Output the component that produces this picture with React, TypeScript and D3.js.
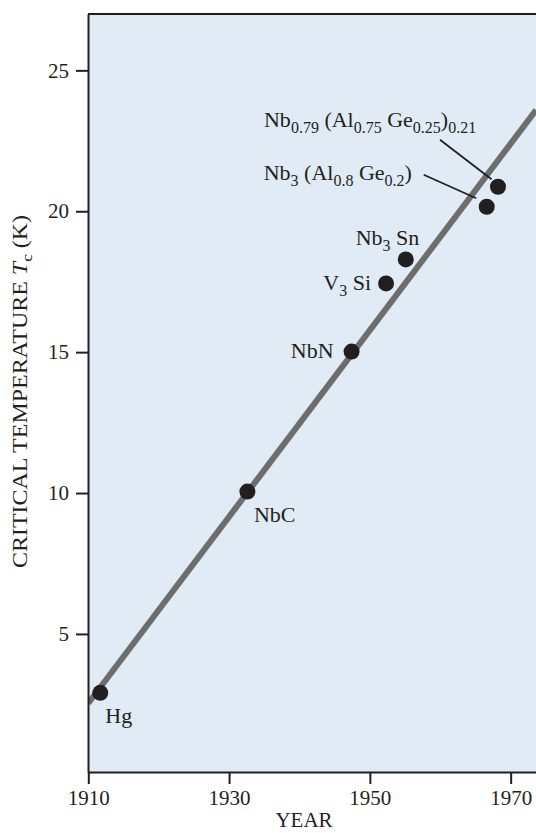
import React, { useEffect, useRef } from 'react';
import * as d3 from 'd3';

// superconductors: discovery year vs critical temperature
const materials = ['Hg', 'NbC', 'NbN', 'V_{3} Si', 'Nb_{3} Sn', 'Nb_{3} (Al_{0.8} Ge_{0.2})', 'Nb_{0.79} (Al_{0.75} Ge_{0.25})_{0.21}'];
const years = [1911.7, 1932.6, 1947.4, 1952.3, 1955.1, 1966.6, 1968.2];
const tcValues = [2.91, 10.05, 15.02, 17.44, 18.29, 20.16, 20.87];

// trend line end points
const trendYears = [1910, 1973.6];
const trendTc = [2.54, 23.59];

const yearTicks = [1910, 1930, 1950, 1970];
const tcTicks = [5, 10, 15, 20, 25];

// label placement relative to each point (px)
const labelPos = [
  { dx: 5, dy: 30, anchor: 'start' },
  { dx: 6.5, dy: 30, anchor: 'start' },
  { dx: -18, dy: 6.5, anchor: 'end' },
  { dx: -15, dy: 7, anchor: 'end' },
  { dx: 13.5, dy: -14, anchor: 'end' },
  { dx: -223, dy: -27, anchor: 'start', lead: [-63, -32, -10.5, -8.5] },
  { dx: -234, dy: -60, anchor: 'start', lead: [-58, -47, -6.5, -7.5] },
];

const FONT = '"Liberation Serif", "Times New Roman", serif';
const INK = '#231f20';

function App() {
  const ref = useRef<SVGSVGElement>(null);

  useEffect(() => {
    const W = 536, H = 833;
    const margin = { top: 14, right: 0, bottom: 61, left: 88 };
    const svg = d3.select(ref.current).attr('width', W).attr('height', H);
    svg.selectAll('*').remove();

    const x = d3.scaleLinear().domain([1910, 1973.6]).range([88.3, 536]);
    const y = d3.scaleLinear().domain([0.1, 27]).range([H - margin.bottom, margin.top]);

    svg.append('rect')
      .attr('x', margin.left).attr('y', margin.top)
      .attr('width', W - margin.left).attr('height', H - margin.bottom - margin.top)
      .attr('fill', '#e1ebf6');

    svg.append('clipPath').attr('id', 'plot-clip')
      .append('rect')
      .attr('x', margin.left).attr('y', margin.top)
      .attr('width', W - margin.left).attr('height', H - margin.bottom - margin.top);

    // trend line
    const line = d3.line<number>().x((d, i) => x(trendYears[i])).y(d => y(d));
    svg.append('path')
      .attr('d', line(trendTc))
      .attr('clip-path', 'url(#plot-clip)')
      .attr('fill', 'none')
      .attr('stroke', '#6d6d6d')
      .attr('stroke-width', 6);

    // top frame line
    svg.append('line')
      .attr('x1', margin.left).attr('x2', W)
      .attr('y1', margin.top).attr('y2', margin.top)
      .attr('stroke', INK).attr('stroke-width', 2);

    const yAxis = svg.append('g')
      .attr('transform', `translate(${margin.left},0)`)
      .call(d3.axisLeft(y).tickValues(tcTicks).tickSize(12).tickSizeOuter(0).tickPadding(7));
    const xAxis = svg.append('g')
      .attr('transform', `translate(0,${H - margin.bottom})`)
      .call(d3.axisBottom(x).tickValues(yearTicks).tickFormat(d3.format('d')).tickSize(12).tickSizeOuter(0).tickPadding(6));

    [yAxis, xAxis].forEach(g => {
      g.select('.domain').attr('stroke', INK).attr('stroke-width', 2);
      g.selectAll('.tick line').attr('stroke', INK).attr('stroke-width', 2);
      g.selectAll('.tick text').attr('fill', INK).style('font-family', FONT).style('font-size', '21px');
    });

    svg.append('text')
      .attr('x', (margin.left + 536) / 2 - 8).attr('y', 827)
      .attr('text-anchor', 'middle')
      .style('font-family', FONT).style('font-size', '21px').attr('fill', INK)
      .text('YEAR');

    const yl = svg.append('text')
      .attr('transform', `translate(27,391.5) rotate(-90)`)
      .attr('text-anchor', 'middle')
      .attr('textLength', 353).attr('lengthAdjust', 'spacingAndGlyphs')
      .style('font-family', FONT).style('font-size', '21px').attr('fill', INK);
    yl.append('tspan').text('CRITICAL TEMPERATURE ');
    yl.append('tspan').attr('font-style', 'italic').text('T');
    yl.append('tspan').attr('dy', 5).style('font-size', '15px').text('c');
    yl.append('tspan').attr('dy', -5).text(' (K)');

    // leader lines
    materials.forEach((m, i) => {
      const lp = labelPos[i];
      if (!lp.lead) return;
      const px = x(years[i]), py = y(tcValues[i]);
      svg.append('line')
        .attr('x1', px + lp.lead[0]).attr('y1', py + lp.lead[1])
        .attr('x2', px + lp.lead[2]).attr('y2', py + lp.lead[3])
        .attr('stroke', INK).attr('stroke-width', 1.8);
    });

    svg.selectAll('circle.pt').data(materials).join('circle')
      .attr('class', 'pt')
      .attr('cx', (d, i) => x(years[i]))
      .attr('cy', (d, i) => y(tcValues[i]))
      .attr('r', 8)
      .attr('fill', INK);

    // labels with subscripts
    materials.forEach((m, i) => {
      const lp = labelPos[i];
      const t = svg.append('text')
        .attr('x', x(years[i]) + lp.dx)
        .attr('y', y(tcValues[i]) + lp.dy)
        .attr('text-anchor', lp.anchor)
        .style('font-family', FONT).style('font-size', '22px').attr('fill', INK);
      const parts = m.split(/(_\{[^}]*\})/).filter(s => s.length);
      let down = false;
      parts.forEach(p => {
        if (p.startsWith('_{')) {
          t.append('tspan').attr('dy', down ? 0 : 6).style('font-size', '16px').text(p.slice(2, -1));
          down = true;
        } else {
          t.append('tspan').attr('dy', down ? -6 : 0).text(p);
          down = false;
        }
      });
    });
  }, []);

  return (
    <svg ref={ref} style={{ position: 'absolute', left: 0, top: 0 }}></svg>
  );
}

export default App;
